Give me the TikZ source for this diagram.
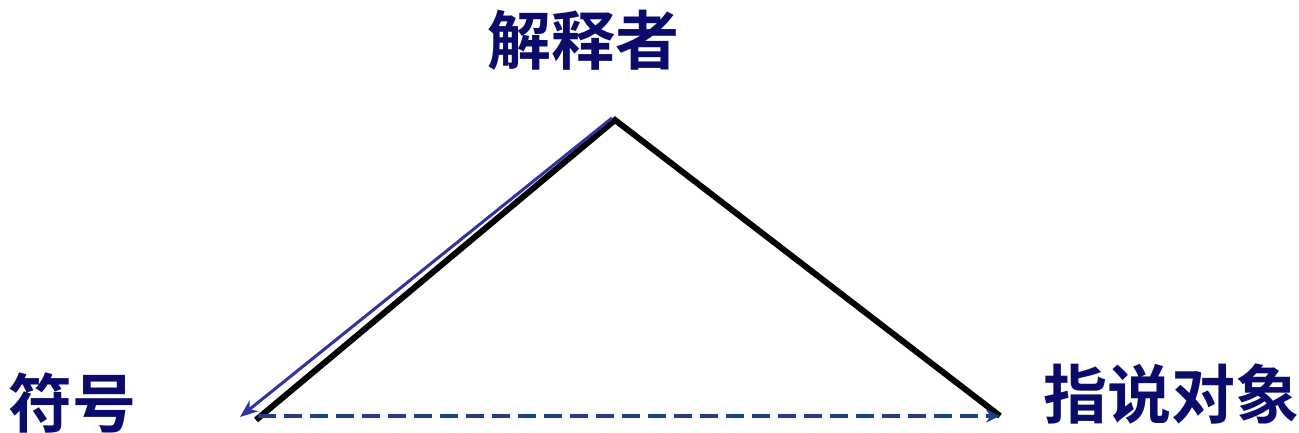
\documentclass[tikz,border=0pt]{standalone}
\usepackage{fontspec}
\newfontfamily\cjk{Noto Sans CJK SC}[BoldFont={Noto Sans CJK SC Bold}]
\usetikzlibrary{arrows.meta}
\definecolor{txtnavy}{HTML}{0B0B6B}
\definecolor{arrblue}{HTML}{3333A0}
\definecolor{dashblue}{HTML}{1F3F8C}
\tikzset{
  lbl/.style={text=txtnavy, font=\cjk\bfseries\fontsize{64}{64}\selectfont, inner sep=0pt},
  tri/.style={line width=6pt, black, line join=miter},
  backarrow/.style={line width=3pt, arrblue, -{Stealth[length=18pt,width=14pt]}},
  dasharrow/.style={line width=4.5pt, dashblue, dash pattern=on 18pt off 8pt, -{Stealth[length=14pt,width=13pt]}}
}
\begin{document}
\begin{tikzpicture}[x=1pt,y=1pt]
\useasboundingbox (0,0) rectangle (1299,433);
\coordinate (apex) at (615,313);
\coordinate (left) at (256,13);
\coordinate (right) at (1000,17);
\coordinate (apexb) at (612,315);
\coordinate (leftb) at (240,16);
\coordinate (ds) at (258,17);
\node[lbl] (interp) at (583,393) {解释者};
\node[lbl] (sign) at (73,30) {符号};
\node[lbl] (obj) at (1171,39) {指说对象};
\draw[tri] (left) -- (apex) -- (right);
\draw[backarrow] (apexb) -- (leftb);
\draw[dasharrow] (ds) -- (right);
\end{tikzpicture}
\end{document}
